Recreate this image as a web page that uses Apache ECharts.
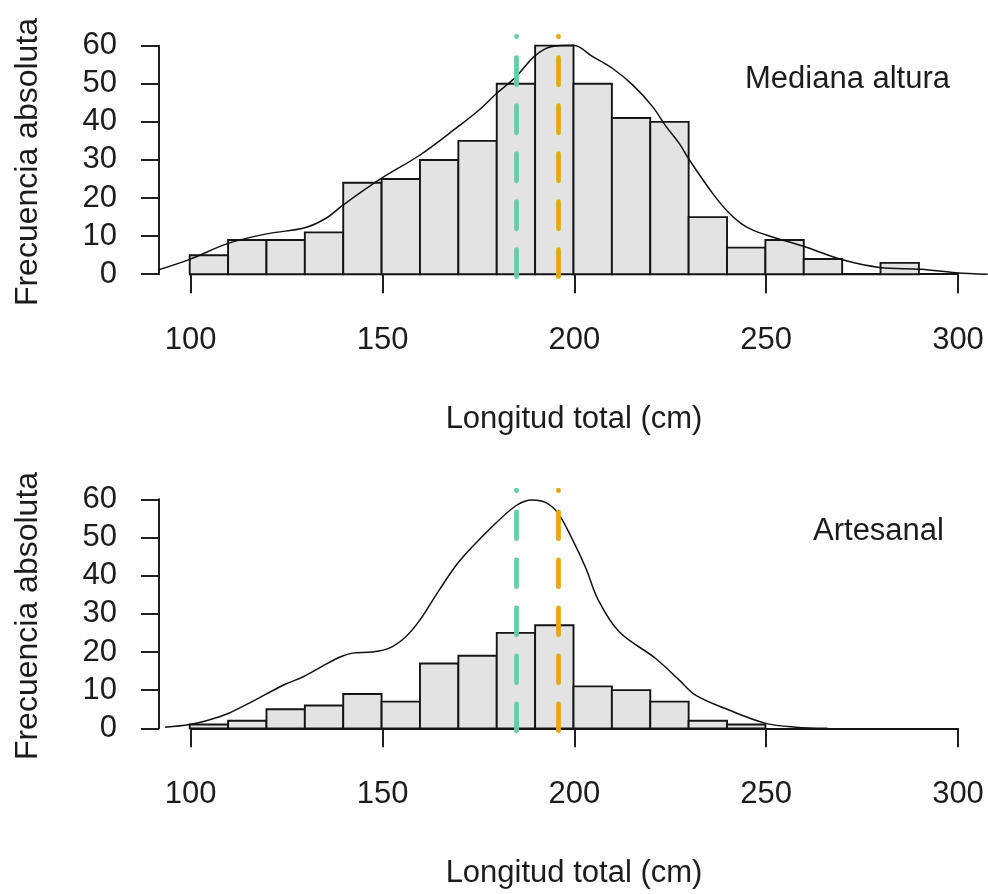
<!DOCTYPE html>
<html>
<head>
<meta charset="utf-8">
<script src="https://cdn.jsdelivr.net/npm/echarts@6/dist/echarts.min.js"></script>
<style>
html,body{margin:0;padding:0;background:#fff;}
#chart{width:988px;height:894px;}
</style>
</head>
<body>
<div id="chart"></div>
<script>
// ---------- data ----------
var binStartsTop = [100,110,120,130,140,150,160,170,180,190,200,210,220,230,240,250,260,270,280];
var countsTop    = [5,9,9,11,24,25,30,35,50,60,50,41,40,15,7,9,4,0,3];
var binStartsBottom = [100,110,120,130,140,150,160,170,180,190,200,210,220,230,240];
var countsBottom    = [1,2,5,6,9,7,17,19,25,27,11,10,7,2,1];
var binWidth = 10;

var densityTop = [
  [91.7,1.1],[100,3.9],[110,8.1],[120,10.6],[130,12.2],[135.5,14.7],[140,18.2],
  [150,25.2],[160,31.3],[170,38.8],[175.4,43.1],[180,47.5],[185,51.8],[190,57.4],
  [194.5,59.8],[200,60.1],[205,57.1],[210.2,54],[215.4,49.7],[220.6,44],[224.1,38.8],
  [227.5,34.4],[230.2,30],[236.2,21.3],[240.6,16],[244.9,12.5],[250.2,10.3],
  [260.1,7.3],[270.1,3.8],[279.7,1.8],[290.6,1.3],[299.7,0.4],[307.9,0]
];
var densityBottom = [
  [93.6,0.3],[100,1.0],[105,2.2],[110,3.9],[115.5,6.6],[119.8,8.9],[125,11.6],
  [129.6,13.5],[134.6,16.3],[139.5,18.8],[142.4,19.7],[147.6,20.0],[152,21],
  [156.3,24],[160,28.4],[165,36.2],[170.2,43.7],[178,52],[185,58.3],[189.3,59.8],
  [192.8,59.1],[196,56.3],[199.8,49.3],[203.2,42],[206.5,33.5],[211.9,25.3],
  [221.4,18.3],[227.5,12.7],[231.8,8.7],[240.5,4.8],[250.1,1.3],[257.9,0.3],[266.2,0]
];
var medianGreen = 185;
var medianOrange = 196;
var xTicks = [100,150,200,250,300];
var yTicks = [0,10,20,30,40,50,60];
var panelLabels = ['Mediana altura','Artesanal'];
var xTitle = 'Longitud total (cm)';
var yTitle = 'Frecuencia absoluta';

// ---------- helpers ----------
var FONT = '"Liberation Sans", Arial, sans-serif';
var TXT = '#1c1c1c';
function hist(starts, counts){
  return starts.map(function(s,i){ return [s, s+binWidth, counts[i]]; });
}
function renderBar(params, api){
  var s = api.value(0), e = api.value(1), c = api.value(2);
  var p0 = api.coord([s, c]);
  var p1 = api.coord([e, 0]);
  return {type:'rect', shape:{x:p0[0], y:p0[1], width:p1[0]-p0[0], height:p1[1]-p0[1]},
          style:{fill:'#E3E3E3', stroke:'#151515', lineWidth:1.9}};
}
function vline(x, color){
  return {
    silent:true, symbol:['none','none'], label:{show:false},
    lineStyle:{color:color, width:4.8, type:[27,21], cap:'round'},
    data:[[{coord:[x,-0.64]},{coord:[x,62.4]}]]
  };
}

var dataGrids = [
  {left:159, top:36.5, width:829, height:246.9},
  {left:159, top:490.1, width:829, height:247.4}
];
var axisGrids = [
  {left:190.7, top:45.64, width:767.3, height:228.6},
  {left:190.7, top:499.3, width:767.3, height:229}
];

var grids = [], xAxes = [], yAxes = [], series = [];
[0,1].forEach(function(p){
  grids.push(dataGrids[p]);
  grids.push(axisGrids[p]);
  var dg = p*2, ag = p*2+1;
  xAxes.push({gridIndex:dg, type:'value', min:92, max:308, show:false});
  yAxes.push({gridIndex:dg, type:'value', min:-2.4, max:62.4, show:false});
  xAxes.push({gridIndex:ag, type:'value', min:100, max:300, interval:50, offset:10,
    axisLine:{show:true, lineStyle:{color:'#151515', width:1.9}},
    axisTick:{show:true, length:19, lineStyle:{color:'#151515', width:1.9}},
    axisLabel:{show:true, margin:41, color:TXT, fontSize:31, fontFamily:FONT},
    splitLine:{show:false}});
  yAxes.push({gridIndex:ag, type:'value', min:0, max:60, interval:10, offset:31.7,
    axisLine:{show:true, lineStyle:{color:'#151515', width:1.9}},
    axisTick:{show:true, length:18, lineStyle:{color:'#151515', width:1.9}},
    axisLabel:{show:true, margin:42, color:TXT, fontSize:31, fontFamily:FONT},
    splitLine:{show:false}});

  var starts = p===0 ? binStartsTop : binStartsBottom;
  var counts = p===0 ? countsTop : countsBottom;
  series.push({type:'custom', xAxisIndex:dg, yAxisIndex:dg, renderItem:renderBar,
    data:hist(starts, counts), encode:{x:[0,1], y:2}, z:2, silent:true});
  series.push({type:'line', xAxisIndex:dg, yAxisIndex:dg, data:[], z:3,
    markLine:vline(medianGreen, '#66CDAA')});
  series.push({type:'line', xAxisIndex:dg, yAxisIndex:dg, data:[], z:3,
    markLine:vline(medianOrange, '#E6A817')});
  series.push({type:'line', xAxisIndex:dg, yAxisIndex:dg, z:4, silent:true,
    data: p===0 ? densityTop : densityBottom, smooth:0.35, showSymbol:false, symbol:'none',
    lineStyle:{color:'#111', width:1.5}});
});

var graphics = [
  {type:'text', x:847.5, y:79, style:{text:panelLabels[0], font:'31px '+FONT, fill:TXT, textAlign:'center', textVerticalAlign:'middle'}},
  {type:'text', x:878.5, y:531, style:{text:panelLabels[1], font:'31px '+FONT, fill:TXT, textAlign:'center', textVerticalAlign:'middle'}},
  {type:'text', x:574, y:419, style:{text:xTitle, font:'31px '+FONT, fill:TXT, textAlign:'center', textVerticalAlign:'middle'}},
  {type:'text', x:574, y:873, style:{text:xTitle, font:'31px '+FONT, fill:TXT, textAlign:'center', textVerticalAlign:'middle'}},
  {type:'text', x:28, y:162, rotation:Math.PI/2, style:{text:yTitle, font:'32px '+FONT, fill:TXT, textAlign:'center', textVerticalAlign:'middle'}},
  {type:'text', x:28, y:616, rotation:Math.PI/2, style:{text:yTitle, font:'32px '+FONT, fill:TXT, textAlign:'center', textVerticalAlign:'middle'}}
];

var chart = echarts.init(document.getElementById('chart'), null, {renderer:'canvas'});
chart.setOption({
  animation:false,
  backgroundColor:'#ffffff',
  grid:grids, xAxis:xAxes, yAxis:yAxes, series:series, graphic:graphics
});
</script>
</body>
</html>
